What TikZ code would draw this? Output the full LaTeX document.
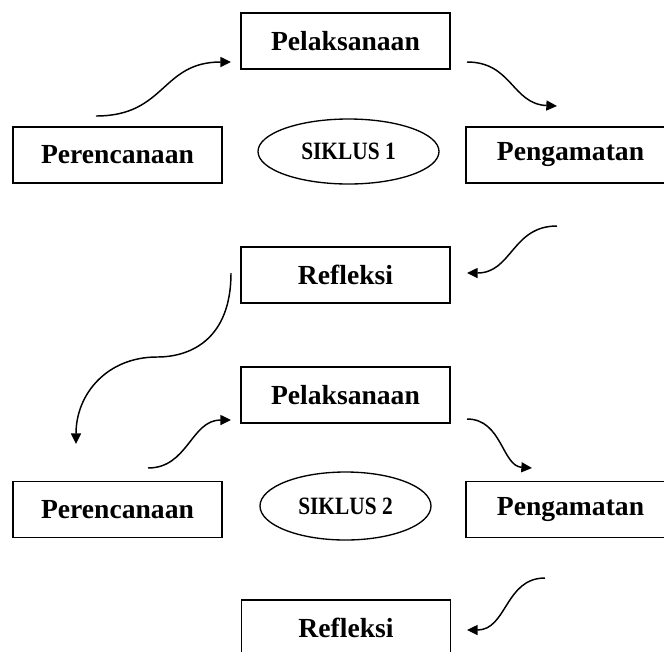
\documentclass[tikz,border=0pt]{standalone}
\usepackage{fontspec}
\usepackage{graphicx}
\setmainfont{Liberation Serif}
\usetikzlibrary{shapes.geometric,arrows.meta}
\begin{document}
\begin{tikzpicture}[x=0.75pt,y=-0.75pt,
  stagebox/.style={draw,line width=1pt,minimum width=156.75pt,minimum height=42pt,inner sep=0pt,
    font=\bfseries\fontsize{20.7}{24}\selectfont},
  cyclebox/.style={draw,ellipse,line width=1pt,inner sep=0pt,
    font=\bfseries\fontsize{17.8}{20}\selectfont},
  flow/.style={line width=1.1pt,-{Triangle[length=8pt,width=7.5pt]}}]
\useasboundingbox (0,0) rectangle (664,651);
\clip (0,0) rectangle (664,651);
% cycle 1
\node[stagebox] (pel1) at (345.5,41) {Pelaksanaan};
\node[stagebox] (per1) at (117.5,155) {Perencanaan};
\node[stagebox] (pen1) at (570.5,155) {Pengamatan};
\node[stagebox] (ref1) at (345.5,275) {Refleksi};
\node[cyclebox,minimum width=135.75pt,minimum height=48.75pt] (sik1) at (348.5,151.5) {\scalebox{0.9}[1.05]{SIKLUS 1}};
% cycle 2
\node[stagebox] (pel2) at (345.5,395) {Pelaksanaan};
\node[stagebox] (per2) at (117.5,509.5) {Perencanaan};
\node[stagebox] (pen2) at (570.5,509.5) {Pengamatan};
\node[stagebox] (ref2) at (346,628) {Refleksi};
\node[cyclebox,minimum width=128.25pt,minimum height=51pt] (sik2) at (345.5,506) {\scalebox{0.9}[1.05]{SIKLUS 2}};
% connector end points
\coordinate (a1s) at (96,116);   \coordinate (a1e) at (231,62);
\coordinate (a2s) at (467,62);   \coordinate (a2e) at (557,106);
\coordinate (a3s) at (557,226);  \coordinate (a3e) at (467,273);
\coordinate (a4s) at (231,273);  \coordinate (a4m) at (157,357); \coordinate (a4e) at (76,444);
\coordinate (a5s) at (148,468);  \coordinate (a5e) at (231,420);
\coordinate (a6s) at (467,419);  \coordinate (a6e) at (532,468);
\coordinate (a7s) at (545,578);  \coordinate (a7e) at (467,630);
% connectors
\draw[flow] (a1s) .. controls ++(70,0) and ++(-70,0) .. (a1e);
\draw[flow] (a2s) .. controls ++(45,0) and ++(-45,-2) .. (a2e);
\draw[flow] (a3s) .. controls ++(-45,0) and ++(45,0) .. (a3e);
\draw[flow] (a4s) .. controls ++(0,65) and ++(35,0) .. (a4m) .. controls ++(-50,0) and ++(0,-50) .. (a4e);
\draw[flow] (a5s) .. controls ++(40,0) and ++(-40,0) .. (a5e);
\draw[flow] (a6s) .. controls ++(35,0) and ++(-30,-2) .. (a6e);
\draw[flow] (a7s) .. controls ++(-40,0) and ++(40,0) .. (a7e);
\end{tikzpicture}
\end{document}
